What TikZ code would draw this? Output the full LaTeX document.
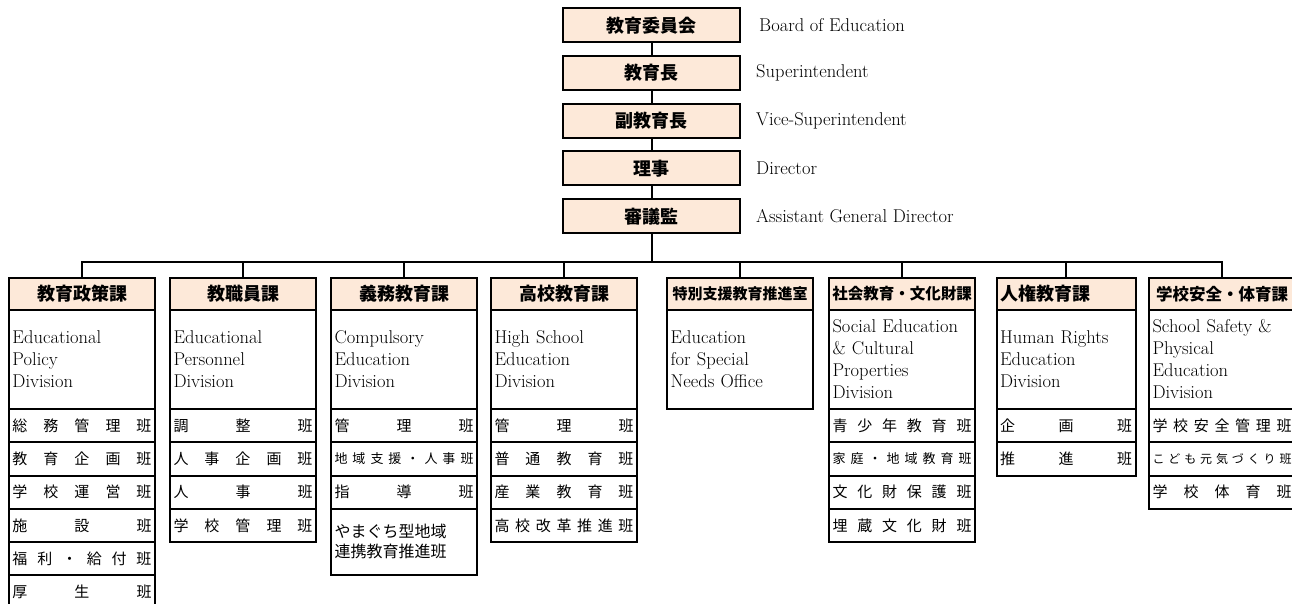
\documentclass[tikz,border=0pt]{standalone}
\usepackage{fontspec}
\newfontfamily\jp{Noto Sans CJK JP}
\usetikzlibrary{positioning}
\definecolor{peach}{HTML}{FDE9D9}
\tikzset{
  x=1pt, y=1pt,
  line/.style={line width=2pt},
  topbox/.style={draw, line width=2pt, fill=peach, outer sep=0pt, inner sep=0pt,
    minimum width=177pt, minimum height=34pt, font=\jp\bfseries\fontsize{18}{18}\selectfont},
  toplabel/.style={anchor=west, inner sep=0pt, font=\fontsize{18.5}{22}\selectfont},
  divhead/.style={draw, line width=2pt, fill=peach, outer sep=0pt, inner sep=0pt,
    minimum width=146pt, minimum height=32pt, font=\jp\bfseries\fontsize{18}{18}\selectfont},
  divname/.style={draw, line width=2pt, outer sep=0pt, text width=139pt, inner xsep=3.5pt,
    inner ysep=0pt, minimum height=99pt, align=left, font=\fontsize{18.5}{22}\selectfont},
  team/.style={draw, line width=2pt, outer sep=0pt, text width=139pt, inner xsep=3.5pt,
    inner ysep=0pt, minimum height=33.3pt, font=\jp\fontsize{15}{18}\selectfont},
  narrow/.style={minimum width=139pt, text width=132pt},
}
\begin{document}
\begin{tikzpicture}
    \useasboundingbox (0,0) rectangle (1292,604);
    \clip (0,0) rectangle (1292,604);
    % top of the organisation
    \node[topbox] (boe) at (651.5,578.5) {教育委員会};
    \node[topbox] (supt) at (651.5,531) {教育長};
    \node[topbox] (vsupt) at (651.5,483) {副教育長};
    \node[topbox] (dir) at (651.5,435.5) {理事};
    \node[topbox] (agd) at (651.5,387.5) {審議監};
    \node[toplabel] (lboe) at (759,578.5) {Board of Education};
    \node[toplabel] (lsupt) at (756,531) {Superintendent};
    \node[toplabel] (lvsupt) at (756,483) {Vice-Superintendent};
    \node[toplabel] (ldir) at (756,435.5) {Director};
    \node[toplabel] (lagd) at (756,387.5) {Assistant General Director};
    \coordinate (bus) at (651.5,342);

    % divisions
    \node[divhead] (h1) at (82,310) {教育政策課};
    \node[divname, below=0pt of h1] (e1) {Educational\\Policy\\Division};
    \node[team, below=0pt of e1] (t11) {総\hfill 務\hfill 管\hfill 理\hfill 班};
    \node[team, below=0pt of t11] (t12) {教\hfill 育\hfill 企\hfill 画\hfill 班};
    \node[team, below=0pt of t12] (t13) {学\hfill 校\hfill 運\hfill 営\hfill 班};
    \node[team, below=0pt of t13] (t14) {施\hfill 設\hfill 班};
    \node[team, below=0pt of t14] (t15) {福\hfill 利\hfill ・\hfill 給\hfill 付\hfill 班};
    \node[team, below=0pt of t15] (t16) {厚\hfill 生\hfill 班};

    \node[divhead] (h2) at (243,310) {教職員課};
    \node[divname, below=0pt of h2] (e2) {Educational\\Personnel\\Division};
    \node[team, below=0pt of e2] (t21) {調\hfill 整\hfill 班};
    \node[team, below=0pt of t21] (t22) {人\hfill 事\hfill 企\hfill 画\hfill 班};
    \node[team, below=0pt of t22] (t23) {人\hfill 事\hfill 班};
    \node[team, below=0pt of t23] (t24) {学\hfill 校\hfill 管\hfill 理\hfill 班};

    \node[divhead] (h3) at (404,310) {義務教育課};
    \node[divname, below=0pt of h3] (e3) {Compulsory\\Education\\Division};
    \node[team, below=0pt of e3] (t31) {管\hfill 理\hfill 班};
    \node[team, below=0pt of t31, font=\jp\fontsize{13}{16}\selectfont] (t32) {地\hfill 域\hfill 支\hfill 援\hfill ・\hfill 人\hfill 事\hfill 班};
    \node[team, below=0pt of t32] (t33) {指\hfill 導\hfill 班};
    \node[team, below=0pt of t33, minimum height=66pt, align=left, font=\jp\fontsize{16}{20}\selectfont] (t34) {やまぐち型地域\\連携教育推進班};

    \node[divhead] (h4) at (564,310) {高校教育課};
    \node[divname, below=0pt of h4] (e4) {High School\\Education\\Division};
    \node[team, below=0pt of e4] (t41) {管\hfill 理\hfill 班};
    \node[team, below=0pt of t41] (t42) {普\hfill 通\hfill 教\hfill 育\hfill 班};
    \node[team, below=0pt of t42] (t43) {産\hfill 業\hfill 教\hfill 育\hfill 班};
    \node[team, below=0pt of t43] (t44) {高\hfill 校\hfill 改\hfill 革\hfill 推\hfill 進\hfill 班};

    \node[divhead, font=\jp\bfseries\fontsize{15}{15}\selectfont] (h5) at (740,310) {特別支援教育推進室};
    \node[divname, below=0pt of h5] (e5) {Education\\for Special\\Needs Office};

    \node[divhead, font=\jp\bfseries\fontsize{15.5}{15.5}\selectfont] (h6) at (902,310) {社会教育・文化財課};
    \node[divname, below=0pt of h6] (e6) {Social Education\\\& Cultural\\Properties\\Division};
    \node[team, below=0pt of e6] (t61) {青\hfill 少\hfill 年\hfill 教\hfill 育\hfill 班};
    \node[team, below=0pt of t61, font=\jp\fontsize{13}{16}\selectfont] (t62) {家\hfill 庭\hfill ・\hfill 地\hfill 域\hfill 教\hfill 育\hfill 班};
    \node[team, below=0pt of t62] (t63) {文\hfill 化\hfill 財\hfill 保\hfill 護\hfill 班};
    \node[team, below=0pt of t63] (t64) {埋\hfill 蔵\hfill 文\hfill 化\hfill 財\hfill 班};

    \node[divhead, narrow] (h7) at (1066,310) {人権教育課};
    \node[divname, narrow, below=0pt of h7] (e7) {Human Rights\\Education\\Division};
    \node[team, narrow, below=0pt of e7] (t71) {企\hfill 画\hfill 班};
    \node[team, narrow, below=0pt of t71] (t72) {推\hfill 進\hfill 班};

    \node[divhead, font=\jp\bfseries\fontsize{16.5}{16.5}\selectfont] (h8) at (1222,310) {学校安全・体育課};
    \node[divname, below=0pt of h8] (e8) {School Safety \&\\Physical\\Education\\Division};
    \node[team, below=0pt of e8] (t81) {学\hfill 校\hfill 安\hfill 全\hfill 管\hfill 理\hfill 班};
    \node[team, below=0pt of t81, font=\jp\fontsize{12}{15}\selectfont] (t82) {こ\hfill ど\hfill も\hfill 元\hfill 気\hfill づ\hfill く\hfill り\hfill 班};
    \node[team, below=0pt of t82] (t83) {学\hfill 校\hfill 体\hfill 育\hfill 班};

    % connectors
    \draw[line] (boe) -- (supt) -- (vsupt) -- (dir) -- (agd);
    \draw[line] (agd) -- (bus);
    \draw[line] (h1.north) |- (bus) -| (h8.north);
    \foreach \h in {h2,h3,h4,h5,h6,h7}
        \draw[line] (\h.north) -- (\h.north |- bus);
\end{tikzpicture}
\end{document}
